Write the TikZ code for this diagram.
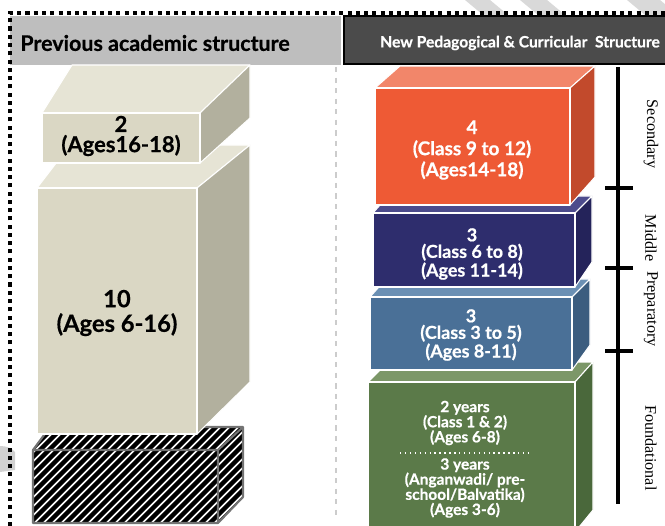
\documentclass[tikz,border=0pt]{standalone}
\usepackage{fontspec}
\setmainfont{Liberation Serif}
\newfontfamily\gillfont{Lato}[BoldFeatures={FakeBold=0.6}]
\usetikzlibrary{positioning}
\definecolor{headlight}{HTML}{BEBEBE}
\definecolor{headdark}{HTML}{4B4B4B}
\definecolor{oldfront}{HTML}{DAD7C4}
\definecolor{oldtop}{HTML}{E6E4D5}
\definecolor{oldside}{HTML}{B2B09E}
\definecolor{secfront}{HTML}{EE5A35}
\definecolor{sectop}{HTML}{F2866A}
\definecolor{secside}{HTML}{C24A2C}
\definecolor{midfront}{HTML}{2E2D6D}
\definecolor{midtop}{HTML}{4C4B8C}
\definecolor{midside}{HTML}{24235A}
\definecolor{prepfront}{HTML}{4A7097}
\definecolor{preptop}{HTML}{6B90B4}
\definecolor{prepside}{HTML}{3C5D7F}
\definecolor{fndfront}{HTML}{5B7A49}
\definecolor{fndtop}{HTML}{7C9768}
\definecolor{fndside}{HTML}{4A683B}
\tikzset{
  blockedge/.style={draw=white, line width=0.6pt, line join=round},
  hatchedge/.style={draw=black!55, line width=1.2pt, line join=round},
  headtext/.style={font=\gillfont\bfseries, inner sep=0pt},
  inlabel/.style={font=\gillfont\bfseries, text=white, align=center, inner sep=0pt},
  oldlabel/.style={font=\gillfont\bfseries, text=black, align=center, inner sep=0pt},
  stagelabel/.style={font=\fontsize{9.2}{10}\selectfont, rotate=-90, inner sep=0pt},
  stagetick/.style={line width=1.8pt},
}
% block: front x1,y1,x2,y2 / back x left, x right, y / side bottom y / colour prefix
\newcommand{\drawblock}[9]{%
  \path[fill=#9top, blockedge] (#1,#2) -- (#5,#7) -- (#6,#7) -- (#3,#2) -- cycle;
  \path[fill=#9side, blockedge] (#3,#2) -- (#6,#7) -- (#6,#8) -- (#3,#4) -- cycle;
  \path[fill=#9front, blockedge] (#1,#2) rectangle (#3,#4);
}

\begin{document}
\begin{tikzpicture}[x=0.02cm, y=-0.02cm]
  \useasboundingbox (0,0) rectangle (665,526);
  \clip (0,0) rectangle (665,526);
  % faint background bands
  \foreach \a/\b in {465/490,520/547,627/660}
    \fill[black!15] (\a,0) -- (\b,0) -- (\b+30,25) -- (\a+30,25) -- cycle;
  \fill[black!18] (0,446) .. controls (6,446) and (12,448) .. (15,452) -- (15,470) -- (0,472) -- cycle;

  % headers
  \fill[headlight] (10,16) rectangle (341,65);
  \path[fill=headdark, draw=black, line width=1.2pt] (344,16) rectangle (668,64);
  \node[headtext, anchor=west, font=\gillfont\bfseries\fontsize{12.2}{14}\selectfont] (oldhead) at (20,43) {Previous academic structure};
  \node[headtext, text=white, font=\gillfont\bfseries\fontsize{8.9}{10}\selectfont] (newhead) at (520,43) {New Pedagogical \& Curricular\ \ Structure};
  \draw[line width=2.3pt, dash pattern=on 2.3pt off 2.4pt] (10,526) -- (10,13) -- (668,13);

  % divider
  \draw[black!20, line width=0.8pt, dashed] (336,67) -- (336,520);

  % previous structure
  \begin{scope}
    \clip (33,450) -- (50,427) -- (243,427) -- (243,497) -- (218,523) -- (33,523) -- cycle;
    \fill[white] (0,400) rectangle (260,530);
    \foreach \s in {-130,-121,...,260} \draw[line width=2.5pt] (\s,530) -- ++(130,-130);
  \end{scope}
  \draw[hatchedge] (33,450) -- (50,427) -- (243,427) -- (243,497) -- (218,523) -- (33,523) -- cycle;
  \draw[hatchedge] (33,450) -- (218,450) -- (243,427) (218,450) -- (218,523);
  \drawblock{37}{188}{197}{434}{70}{250}{145}{382}{old}
  \drawblock{42}{113}{200}{163}{72}{250}{65}{118}{old}

  % new structure
  \drawblock{368}{382}{575}{532}{388}{593}{362}{510}{fnd}
  \drawblock{370}{297}{572}{370}{386}{590}{279}{345}{prep}
  \drawblock{373}{213}{575}{287}{388}{592}{196}{262}{mid}
  \drawblock{375}{88}{570}{205}{400}{595}{66}{177}{sec}

  % labels
  \node[oldlabel, font=\gillfont\bfseries\fontsize{12.5}{11.5}\selectfont] (upper) at (121,136) {2\\(Ages16-18)};
  \node[oldlabel, font=\gillfont\bfseries\fontsize{13.5}{14}\selectfont] (school) at (117,313) {10\\(Ages 6-16)};
  \node[inlabel, font=\gillfont\bfseries\fontsize{10.8}{12}\selectfont] (secl) at (472,150) {4\\(Class 9 to 12)\\(Ages14-18)};
  \node[inlabel, font=\gillfont\bfseries\fontsize{10.2}{9.4}\selectfont] (midl) at (472,254) {3\\(Class 6 to 8)\\(Ages 11-14)};
  \node[inlabel, font=\gillfont\bfseries\fontsize{10.2}{9.4}\selectfont] (prepl) at (471,335) {3\\(Class 3 to 5)\\(Ages 8-11)};
  \node[inlabel, font=\gillfont\bfseries\fontsize{8.8}{8.6}\selectfont] (fndup) at (465,423) {2 years\\(Class 1 \& 2)\\(Ages 6-8)};
  \node[inlabel, font=\gillfont\bfseries\fontsize{8.8}{8.6}\selectfont] (fndlow) at (465,488) {3 years\\(Anganwadi/ pre-\\school/Balvatika)\\(Ages 3-6)};
  \draw[white, line width=0.8pt, dotted] (400,453) -- (528,453);

  % stage axis
  \coordinate (axtop) at (618,67);
  \coordinate (axbot) at (618,504);
  \draw[stagetick] (axtop) -- (axbot);
  \foreach \y [count=\k] in {188,268,351} {
    \coordinate (tick\k) at (618,\y);
    \draw[stagetick] ([xshift=-13*0.02cm]tick\k) -- ([xshift=15*0.02cm]tick\k);
  }
  \node[stagelabel] (secs) at (651,134) {Secondary};
  \node[stagelabel] (mids) at (651,238) {Middle};
  \node[stagelabel] (preps) at (651,309) {Preparatory};
  \node[stagelabel] (fnds) at (651,448) {Foundational};
\end{tikzpicture}
\end{document}
